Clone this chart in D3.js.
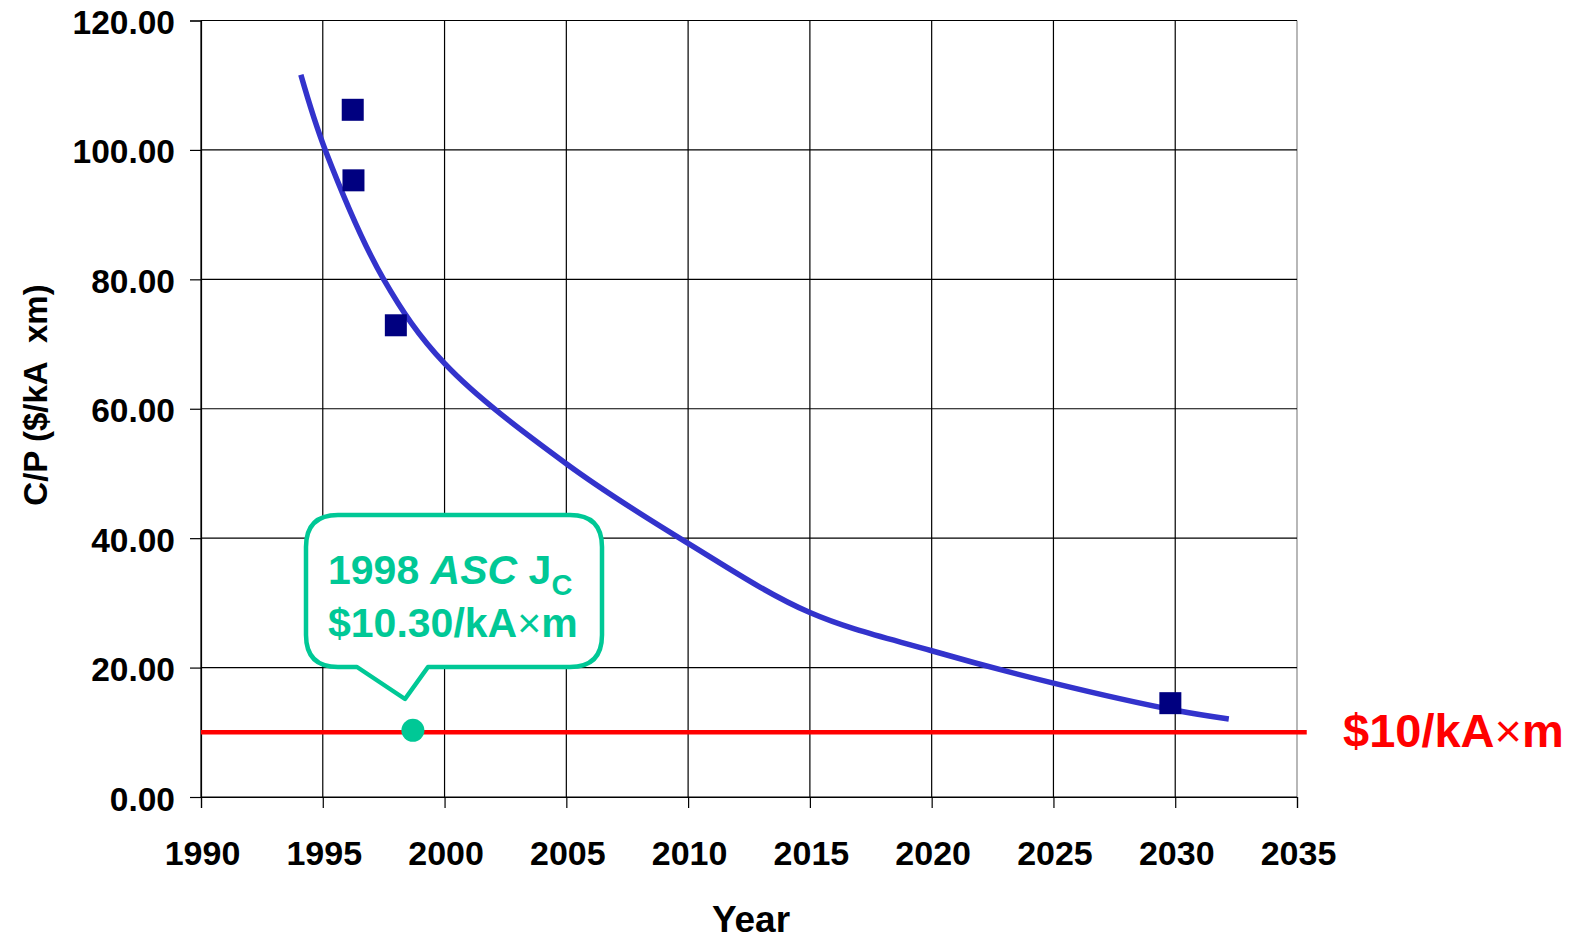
<!DOCTYPE html>
<html>
<head>
<meta charset="utf-8">
<script src="https://cdn.jsdelivr.net/npm/d3@7"></script>
<style>
  html, body { margin: 0; padding: 0; background: #fff; }
  svg { display: block; font-family: Arial, "Liberation Sans", sans-serif; }
</style>
</head>
<body>
<svg id="chart" width="1571" height="941"></svg>
<script>
// Cost/performance ratio of HTS wire over time
const yearTicks = [1990, 1995, 2000, 2005, 2010, 2015, 2020, 2025, 2030, 2035];
const valueTicks = [0, 20, 40, 60, 80, 100, 120];
const valueTickLabels = ["0.00", "20.00", "40.00", "60.00", "80.00", "100.00", "120.00"];

// measured cost/performance points
const pointYears = [1996.23, 1996.26, 1998.0, 2029.8];
const pointValues = [106.2, 95.3, 72.9, 14.5];

// projected trend
const trendYears = [1994.1, 1995.1, 1997.5, 2000.0, 2005.0, 2010.0, 2015.0, 2020.0, 2025.0, 2030.0, 2032.2];
const trendValues = [111.6, 100.0, 80.0, 67.0, 51.5, 39.2, 28.5, 22.6, 17.6, 13.4, 12.05];

// 1998 ASC Jc result
const ascYear = [1998.7];
const ascValue = [10.30];

// target level
const targetValue = 10;
const targetYears = [1990, 2035.4];

const svg = d3.select("#chart");
const x = d3.scaleLinear().domain([1990, 2035]).range([201, 1297]);
const y = d3.scaleLinear().domain([0, 120]).range([797, 20.5]);

const green = "#00C896";

// grid
const grid = svg.append("g");
grid.selectAll("line.v").data(yearTicks).join("line")
  .attr("x1", d => x(d)).attr("x2", d => x(d))
  .attr("y1", y(120)).attr("y2", y(0))
  .attr("stroke", (d, i) => i === yearTicks.length - 1 ? "#888" : "#000")
  .attr("stroke-width", 1.2);
grid.selectAll("line.h").data(valueTicks).join("line")
  .attr("x1", x(1990)).attr("x2", x(2035))
  .attr("y1", d => y(d)).attr("y2", d => y(d))
  .attr("stroke", "#000").attr("stroke-width", 1.2);

// axes
const yAxis = d3.axisLeft(y).tickValues(valueTicks).tickSize(11)
  .tickFormat((d, i) => valueTickLabels[i]);
const gy = svg.append("g").attr("transform", `translate(${x(1990)},0)`).call(yAxis);
gy.select(".domain").attr("stroke", "#000").attr("stroke-width", 1.2);
gy.selectAll(".tick line").attr("stroke", "#000").attr("stroke-width", 1.2);
gy.selectAll(".tick text")
  .attr("x", -26).attr("dy", 13)
  .attr("font-size", 33.5).attr("font-weight", "bold").attr("fill", "#000")
  .attr("font-family", "Arial, 'Liberation Sans', sans-serif");

const xAxis = d3.axisBottom(x).tickValues(yearTicks).tickSize(11).tickFormat(d3.format("d"));
const gx = svg.append("g").attr("transform", `translate(0,${y(0)})`).call(xAxis);
gx.select(".domain").attr("stroke", "#000").attr("stroke-width", 1.2);
gx.selectAll(".tick line").attr("stroke", "#000").attr("stroke-width", 1.2);
gx.selectAll(".tick text")
  .attr("x", 1).attr("y", 68).attr("dy", 0)
  .attr("font-size", 34).attr("font-weight", "bold").attr("fill", "#000")
  .attr("font-family", "Arial, 'Liberation Sans', sans-serif");

// axis titles
svg.append("text")
  .attr("x", 751).attr("y", 932)
  .attr("text-anchor", "middle")
  .attr("font-size", 37).attr("font-weight", "bold")
  .text("Year");
svg.append("text")
  .attr("transform", "translate(47,395) rotate(-90)")
  .attr("text-anchor", "middle")
  .attr("font-size", 33).attr("font-weight", "bold")
  .text("C/P ($/kA\u00a0 xm)");

// target line
svg.append("line")
  .attr("x1", x(targetYears[0])).attr("x2", x(targetYears[1]))
  .attr("y1", y(targetValue)).attr("y2", y(targetValue))
  .attr("stroke", "#FF0000").attr("stroke-width", 4.5);
const tgt = svg.append("text")
  .attr("x", 1343).attr("y", y(targetValue) + 15)
  .attr("font-size", 47).attr("font-weight", "bold").attr("fill", "#FF0000");
tgt.append("tspan").text("$10/kA");
tgt.append("tspan").attr("font-weight", "normal").text("\u00d7");
tgt.append("tspan").text("m");

// trend curve
const trend = trendYears.map((t, i) => [t, trendValues[i]]);
svg.append("path")
  .datum(trend)
  .attr("fill", "none")
  .attr("stroke", "#3333CC")
  .attr("stroke-width", 5.5)
  .attr("d", d3.line().x(d => x(d[0])).y(d => y(d[1])).curve(d3.curveCatmullRom.alpha(0.5)));

// measured points
const pts = pointYears.map((t, i) => [t, pointValues[i]]);
svg.selectAll("rect.pt").data(pts).join("rect")
  .attr("class", "pt")
  .attr("x", d => x(d[0]) - 11).attr("y", d => y(d[1]) - 11)
  .attr("width", 22).attr("height", 22)
  .attr("fill", "#000080");

// ASC point
svg.selectAll("circle.asc").data(ascYear.map((t, i) => [t, ascValue[i]])).join("circle")
  .attr("class", "asc")
  .attr("cx", d => x(d[0])).attr("cy", d => y(d[1]))
  .attr("r", 11.5)
  .attr("fill", green);

// callout bubble
const bx0 = 306, bx1 = 602, by0 = 515, by1 = 667, r = 32;
const tailL = 357, tailR = 428, tipX = 405, tipY = 699;
const bubble = d3.path();
bubble.moveTo(bx0 + r, by0);
bubble.lineTo(bx1 - r, by0);
bubble.quadraticCurveTo(bx1, by0, bx1, by0 + r);
bubble.lineTo(bx1, by1 - r);
bubble.quadraticCurveTo(bx1, by1, bx1 - r, by1);
bubble.lineTo(tailR, by1);
bubble.lineTo(tipX, tipY);
bubble.lineTo(tailL, by1);
bubble.lineTo(bx0 + r, by1);
bubble.quadraticCurveTo(bx0, by1, bx0, by1 - r);
bubble.lineTo(bx0, by0 + r);
bubble.quadraticCurveTo(bx0, by0, bx0 + r, by0);
bubble.closePath();
svg.append("path").attr("d", bubble.toString())
  .attr("fill", "#fff").attr("stroke", green).attr("stroke-width", 4.5)
  .attr("stroke-linejoin", "round");

const l1 = svg.append("text").attr("x", 328).attr("y", 584)
  .attr("font-size", 41).attr("font-weight", "bold").attr("fill", green);
l1.append("tspan").text("1998 ");
l1.append("tspan").attr("font-style", "italic").text("ASC");
l1.append("tspan").text(" J");
l1.append("tspan").attr("font-size", 29).attr("dy", 11).text("C");

const l2 = svg.append("text").attr("x", 328).attr("y", 637)
  .attr("font-size", 41).attr("font-weight", "bold").attr("fill", green);
l2.append("tspan").text("$" + ascValue[0].toFixed(2) + "/kA");
l2.append("tspan").attr("font-weight", "normal").text("\u00d7");
l2.append("tspan").text("m");
</script>
</body>
</html>
